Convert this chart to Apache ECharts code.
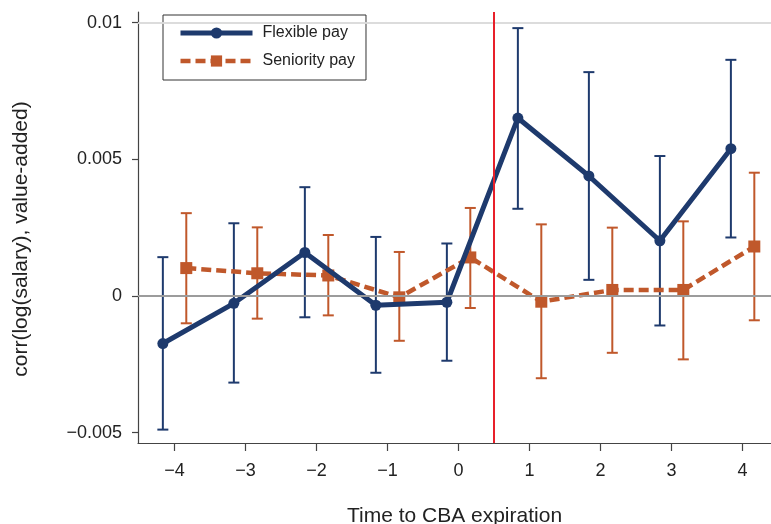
<!DOCTYPE html>
<html>
<head>
<meta charset="utf-8">
<script src="https://cdn.jsdelivr.net/npm/echarts@6/dist/echarts.min.js"></script>
<style>
  html, body { margin: 0; padding: 0; background: #fff; }
  #chart { width: 771px; height: 524px; }
</style>
</head>
<body>
<div id="chart"></div>
<script>
// Years relative to the collective bargaining agreement expiring
const periods = [-4, -3, -2, -1, 0, 1, 2, 3, 4];

// Flexible pay: point estimates and 95% interval bounds
const flexibleEst  = [-0.00174, -0.00027, 0.00159, -0.00034, -0.00023, 0.00651, 0.00439, 0.00202, 0.00539];
const flexibleLow  = [-0.00489, -0.00317, -0.00078, -0.00281, -0.00237, 0.00319, 0.00059, -0.00108, 0.00214];
const flexibleHigh = [0.00142, 0.00266, 0.00398, 0.00216, 0.00192, 0.00980, 0.00819, 0.00512, 0.00864];

// Seniority pay: point estimates and 95% interval bounds
const seniorityEst  = [0.00102, 0.00083, 0.00075, -0.00005, 0.00141, -0.00021, 0.00022, 0.00022, 0.00181];
const seniorityLow  = [-0.00100, -0.00083, -0.00071, -0.00164, -0.00044, -0.00301, -0.00208, -0.00232, -0.00089];
const seniorityHigh = [0.00303, 0.00251, 0.00223, 0.00161, 0.00322, 0.00262, 0.00250, 0.00273, 0.00451];

// Axis ticks and labels
const xTickValues = [-4, -3, -2, -1, 0, 1, 2, 3, 4];
const xTickLabels = ['\u22124', '\u22123', '\u22122', '\u22121', '0', '1', '2', '3', '4'];
const yTickValues = [-0.005, 0, 0.005, 0.01];
const yTickLabels = ['\u22120.005', '0', '0.005', '0.01'];

// Expiration marker between period 0 and period 1
const expirationAt = 0.5;

const NAVY = '#1e3a6d';
const RUST = '#c0582b';
const DODGE = 0.165;   // side-by-side shift of the two groups
const FONT = 'Liberation Sans, Arial, sans-serif';

const flexibleLine = { color: NAVY, width: 5, type: 'solid' };
const seniorityLine = { color: RUST, width: 4.5, type: [10, 5] };

function labelFor(values, labels) {
  return function (v) {
    let best = 0;
    for (let i = 1; i < values.length; i++) {
      if (Math.abs(values[i] - v) < Math.abs(values[best] - v)) best = i;
    }
    return labels[best];
  };
}

function errorBars(name, color, low, high, shift) {
  return {
    type: 'custom',
    name: name,
    z: 2,
    silent: true,
    data: periods.map((p, i) => [p + shift, low[i], high[i]]),
    encode: { x: 0, y: [1, 2] },
    renderItem: function (params, api) {
      const x = api.value(0);
      const lo = api.coord([x, api.value(1)]);
      const hi = api.coord([x, api.value(2)]);
      const half = 5.5;
      const style = { stroke: color, lineWidth: 2, fill: null };
      return {
        type: 'group',
        children: [
          { type: 'line', shape: { x1: lo[0], y1: lo[1], x2: hi[0], y2: hi[1] }, style: style },
          { type: 'line', shape: { x1: lo[0] - half, y1: lo[1], x2: lo[0] + half, y2: lo[1] }, style: style },
          { type: 'line', shape: { x1: hi[0] - half, y1: hi[1], x2: hi[0] + half, y2: hi[1] }, style: style }
        ]
      };
    }
  };
}

const chart = echarts.init(document.getElementById('chart'), null, { renderer: 'canvas' });

chart.setOption({
  animation: false,
  backgroundColor: '#fff',
  textStyle: { fontFamily: FONT },
  grid: { left: 138, top: 12, right: 0, bottom: 81, containLabel: false, outerBoundsMode: 'none' },
  legend: {
    orient: 'vertical',
    left: 163,
    top: 15,
    data: [
      { name: 'Flexible pay', lineStyle: flexibleLine, itemStyle: { color: NAVY } },
      { name: 'Seniority pay', lineStyle: seniorityLine, itemStyle: { color: RUST } }
    ],
    itemWidth: 72,
    itemHeight: 14,
    itemGap: 12,
    padding: [10, 11, 11, 15],
    borderColor: '#333',
    borderWidth: 1,
    backgroundColor: '#fff',
    selectedMode: false,
    textStyle: { fontSize: 16, color: '#222', fontFamily: FONT, padding: [0, 0, 0, 5] }
  },
  xAxis: {
    type: 'value',
    min: -4.515,
    max: 4.4,
    name: 'Time to CBA expiration',
    nameLocation: 'middle',
    nameGap: 63,
    nameTextStyle: { fontSize: 21, color: '#222', fontFamily: FONT },
    axisLine: { onZero: false, lineStyle: { color: '#444', width: 1.2 } },
    axisTick: { show: true, length: 8, customValues: xTickValues, lineStyle: { color: '#444', width: 1.2 } },
    axisLabel: { customValues: xTickValues, formatter: labelFor(xTickValues, xTickLabels), margin: 19, fontSize: 18, color: '#222', fontFamily: FONT },
    splitLine: { show: false }
  },
  yAxis: {
    type: 'value',
    min: -0.00538,
    max: 0.01039,
    name: 'corr(log(salary), value-added)',
    nameLocation: 'middle',
    nameGap: 106,
    nameTextStyle: { fontSize: 21, color: '#222', fontFamily: FONT, padding: [0, 23, 0, 0] },
    axisLine: { show: true, onZero: false, lineStyle: { color: '#444', width: 1.2 } },
    axisTick: { show: true, length: 6, customValues: yTickValues, lineStyle: { color: '#444', width: 1.2 } },
    axisLabel: { customValues: yTickValues, formatter: labelFor(yTickValues, yTickLabels), margin: 16, fontSize: 18, color: '#222', fontFamily: FONT },
    splitLine: { show: false }
  },
  series: [
    {
      // gridlines, zero line and the expiration marker
      type: 'line',
      name: 'reference',
      data: [],
      z: 1,
      silent: true,
      markLine: {
        silent: true,
        symbol: 'none',
        label: { show: false },
        animation: false,
        data: yTickValues.filter(v => v !== 0).map(v => ({ yAxis: v, lineStyle: { color: '#dadada', width: 1.5, type: 'solid' } }))
          .concat([
            { yAxis: 0, lineStyle: { color: '#9c9c9c', width: 2, type: 'solid' } },
            { xAxis: expirationAt, lineStyle: { color: '#e8202a', width: 2, type: 'solid' } }
          ])
      }
    },
    errorBars('Flexible pay interval', NAVY, flexibleLow, flexibleHigh, -DODGE),
    errorBars('Seniority pay interval', RUST, seniorityLow, seniorityHigh, DODGE),
    {
      type: 'line',
      name: 'Flexible pay',
      z: 4,
      data: periods.map((p, i) => [p - DODGE, flexibleEst[i]]),
      symbol: 'circle',
      symbolSize: 11,
      itemStyle: { color: NAVY },
      lineStyle: flexibleLine
    },
    {
      type: 'line',
      name: 'Seniority pay',
      z: 3,
      data: periods.map((p, i) => [p + DODGE, seniorityEst[i]]),
      symbol: 'rect',
      symbolSize: 12,
      itemStyle: { color: RUST },
      lineStyle: seniorityLine
    }
  ]
});
</script>
</body>
</html>
